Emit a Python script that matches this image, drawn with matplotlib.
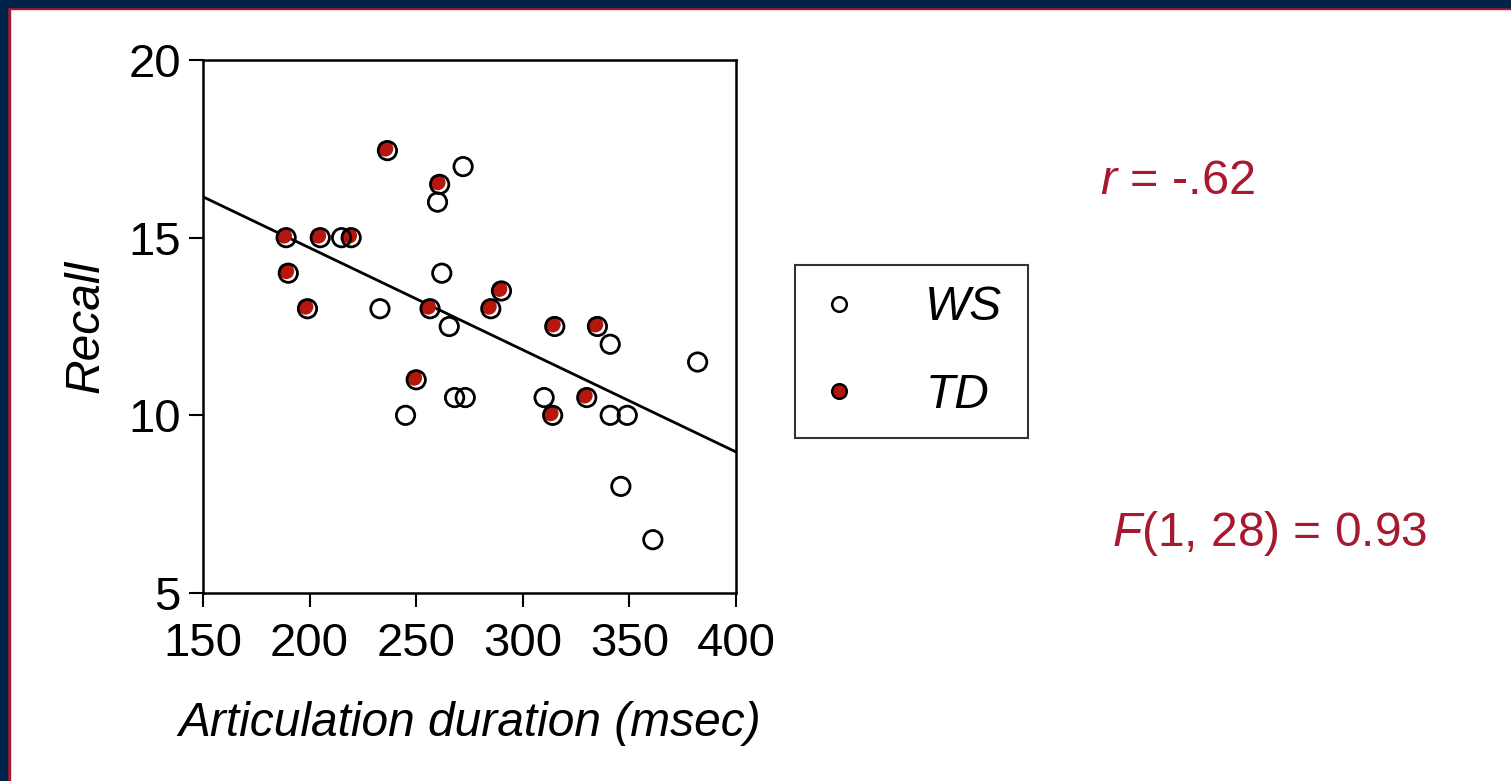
import numpy as np
import matplotlib.pyplot as plt
from matplotlib.patches import Rectangle
from matplotlib.lines import Line2D
from matplotlib.legend_handler import HandlerTuple
import matplotlib.transforms as mtransforms

plt.rcParams['font.family'] = ['Liberation Sans', 'DejaVu Sans']
plt.rcParams['mathtext.fontset'] = 'custom'
plt.rcParams['mathtext.rm'] = 'Liberation Sans'
plt.rcParams['mathtext.it'] = 'Liberation Sans:italic'

# WS group (open circles)
ws_x = [272, 260, 215, 262, 233, 265.5, 341, 382, 268, 273, 310, 245, 341, 349, 346, 361]
ws_y = [17, 16, 15, 14, 13, 12.5, 12, 11.5, 10.5, 10.5, 10.5, 10, 10, 10, 8, 6.5]

# TD group (red filled + open circle)
td_x = [236.5, 261, 189, 205, 219.5, 190, 199, 256.5, 285, 290, 315, 335, 250, 330, 314]
td_y = [17.45, 16.5, 15, 15, 15, 14, 13, 13, 13, 13.5, 12.5, 12.5, 11, 10.5, 10]

# fitted line
line_x = [150, 400]
line_y = [16.15, 8.97]

r_text = '$\\it{r}$ = -.62'
f_text = '$\\it{F}$(1, 28) = 0.93'

red = '#B5170E'
text_red = '#A6192E'
navy = '#00234A'

fig = plt.figure(figsize=(15.11, 7.81), dpi=100)
ax = fig.add_axes([203 / 1511, 1 - 593 / 781, 533 / 1511, 533 / 781])

ax.plot(line_x, line_y, color='black', lw=2, zorder=1)

# red dot sits a little up-left of its black ring
shifted = mtransforms.offset_copy(ax.transData, fig=fig, x=-2, y=2, units='dots')
ax.scatter(td_x, td_y, s=130, color=red, edgecolor='none', transform=shifted, zorder=2)
ax.scatter(td_x, td_y, s=175, facecolor='none', edgecolor='black', linewidth=2, zorder=3)
ax.scatter(ws_x, ws_y, s=175, facecolor='none', edgecolor='black', linewidth=2, zorder=3)

ax.set_xlim(150, 400)
ax.set_ylim(5, 20)
ax.set_xticks([150, 200, 250, 300, 350, 400])
ax.set_yticks([5, 10, 15, 20])
ax.tick_params(labelsize=34, length=10, width=1.5, direction='out')
ax.tick_params(axis='x', pad=11)
ax.tick_params(axis='y', pad=6)
for sp in ax.spines.values():
    sp.set_linewidth(1.8)

ax.set_xlabel('Articulation duration (msec)', fontsize=34.5, style='italic', labelpad=25)
ax.set_ylabel('Recall', fontsize=34.5, style='italic', labelpad=14)

# legend
ws_handle = Line2D([], [], ls='none', marker='o', markersize=10.5, markerfacecolor='white',
                   markeredgecolor='black', markeredgewidth=1.8)
td_red = Line2D([], [], ls='none', marker='o', markersize=10, markerfacecolor=red,
                markeredgecolor='none')
td_ring = Line2D([], [], ls='none', marker='o', markersize=10.5, markerfacecolor='none',
                 markeredgecolor='black', markeredgewidth=1.8)
leg = ax.legend([ws_handle, (td_red, td_ring)], ['WS', 'TD'],
                handler_map={tuple: HandlerTuple(ndivide=1)},
                loc='center', mode='expand',
                bbox_to_anchor=(795 / 1511, 1 - 438 / 781, 233 / 1511, 173 / 781),
                bbox_transform=fig.transFigure,
                prop={'size': 34.5, 'style': 'italic'},
                frameon=True, fancybox=False, edgecolor='black',
                borderpad=0.43, labelspacing=0.88, handlelength=0.96, handletextpad=1.33,
                borderaxespad=0)
leg.get_frame().set_linewidth(1.5)

fig.text(1100 / 1511, 1 - 181 / 781, r_text, fontsize=35, color=text_red, va='center', ha='left')
fig.text(1112 / 1511, 1 - 533 / 781, f_text, fontsize=34.5, color=text_red, va='center', ha='left')

# frame bands on top and left
fig.add_artist(Rectangle((0, 1 - 7 / 781), 1, 7 / 781, transform=fig.transFigure,
                         color=navy, zorder=10))
fig.add_artist(Rectangle((7 / 1511, 1 - 9 / 781), 1, 2 / 781, transform=fig.transFigure,
                         color='#A6192E', zorder=9))
fig.add_artist(Rectangle((0, 0), 7 / 1511, 1, transform=fig.transFigure,
                         color=navy, zorder=10))
fig.add_artist(Rectangle((7 / 1511, 0), 3 / 1511, 1 - 7 / 781, transform=fig.transFigure,
                         color='#A6192E', zorder=9))

fig.savefig('out.png', dpi=100)
